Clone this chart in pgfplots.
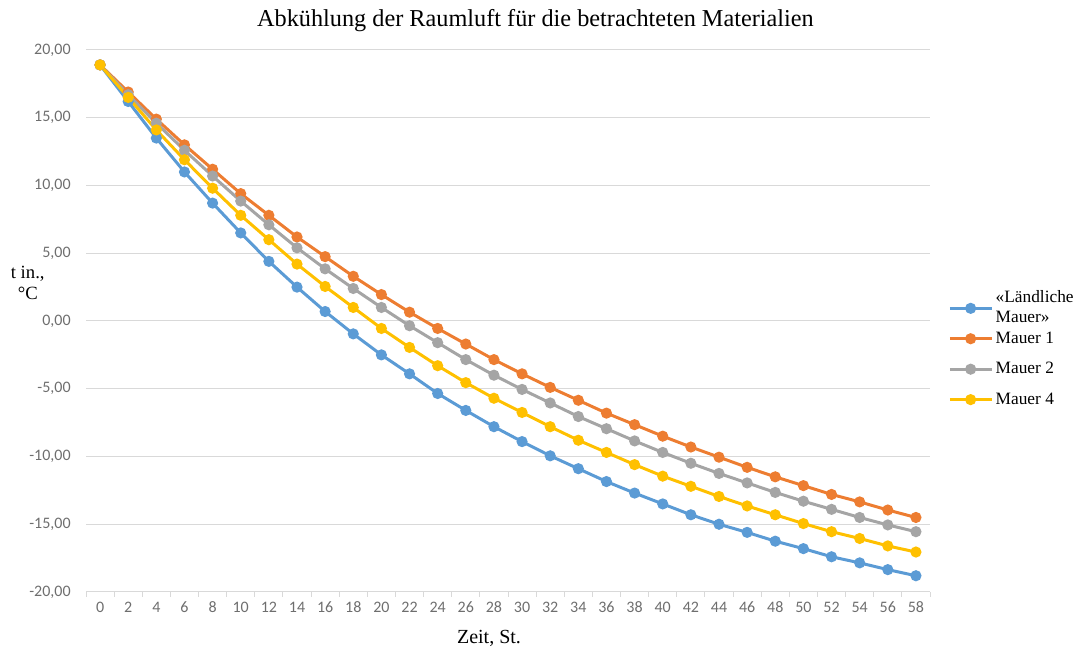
\documentclass[border=0pt]{standalone}
\usepackage{pgfplots}
\pgfplotsset{compat=1.18}
\usepackage{fontspec}
\setmainfont{Liberation Serif}
\newfontfamily\calib{Carlito}

\definecolor{sblue}{HTML}{5B9BD5}
\definecolor{sorange}{HTML}{ED7D31}
\definecolor{sgray}{HTML}{A5A5A5}
\definecolor{sgold}{HTML}{FFC000}
\definecolor{gridgray}{HTML}{D9D9D9}
\definecolor{ticktext}{HTML}{6E6E6E}

\begin{document}
\begin{tikzpicture}
\useasboundingbox (0,0) rectangle (816pt,486.75pt);
\begin{axis}[
  at={(64.5pt,42.75pt)}, anchor=south west,
  scale only axis, width=633pt, height=406.5pt,
  xmin=-1, xmax=59, ymin=-20, ymax=20,
  xtick={0,2,...,58},
  minor xtick={-1,1,...,59},
  ytick={-20,-15,...,20},
  yticklabels={{-20,00},{-15,00},{-10,00},{-5,00},{0,00},{5,00},{10,00},{15,00},{20,00}},
  axis line style={draw=none},
  ymajorgrids, grid style={gridgray, line width=0.75pt},
  major tick length=0pt,
  minor tick length=3.75pt,
  tick align=outside,
  xtick pos=bottom, ytick pos=left,
  minor tick style={gridgray, line width=0.75pt},
  /pgf/number format/assume math mode=true,
  tick label style={font=\calib\fontsize{12}{14}\selectfont, text=ticktext},
  xticklabel style={yshift=-4pt},
  yticklabel style={xshift=-8pt},
  title={Abkühlung der Raumluft für die betrachteten Materialien},
  title style={font=\fontsize{18.2}{20}\selectfont, inner sep=0pt, at={(axis description cs:0.2025,1.028)}, anchor=base west},
  xlabel={Zeit, St.},
  xlabel style={font=\fontsize{15}{17}\selectfont, at={(axis description cs:0.4775,-0.085)}, anchor=center},
  ylabel={t in.,\\°C},
  ylabel style={font=\fontsize{14}{16}\selectfont, align=center, rotate=-90, at={(axis description cs:-0.069,0.570)}, anchor=center},
  every axis plot/.append style={line width=2.25pt, mark=*, mark size=3pt},
  legend style={at={(axis description cs:1.0166,0.546)}, anchor=north west, draw=none, fill=none,
    font=\fontsize{13}{14}\selectfont, row sep=8.75pt, cells={anchor=west}},
  legend image code/.code={\draw[mark repeat=2,mark phase=2,line width=2.25pt] plot coordinates {(0cm,0cm) (0.55cm,0cm) (1.1cm,0cm)};},
]
\addplot[color=sblue] coordinates {
(0,18.9) (2,16.2) (4,13.5) (6,11.0) (8,8.7) (10,6.5) (12,4.4) (14,2.5) (16,0.7) (18,-0.95)
(20,-2.5) (22,-3.9) (24,-5.35) (26,-6.6) (28,-7.8) (30,-8.9) (32,-9.95) (34,-10.9) (36,-11.85) (38,-12.7)
(40,-13.5) (42,-14.3) (44,-15.0) (46,-15.6) (48,-16.25) (50,-16.8) (52,-17.4) (54,-17.85) (56,-18.35) (58,-18.8)
};
\addlegendentry{\smash{\begin{tabular}[c]{@{}l@{}}«Ländliche\\[1pt]Mauer»\end{tabular}}\vphantom{Mg}}
\addplot[color=sorange] coordinates {
(0,18.9) (2,16.9) (4,14.9) (6,13.0) (8,11.2) (10,9.4) (12,7.8) (14,6.2) (16,4.75) (18,3.3)
(20,1.95) (22,0.65) (24,-0.55) (26,-1.7) (28,-2.85) (30,-3.9) (32,-4.9) (34,-5.85) (36,-6.8) (38,-7.65)
(40,-8.5) (42,-9.3) (44,-10.05) (46,-10.8) (48,-11.5) (50,-12.15) (52,-12.8) (54,-13.35) (56,-13.95) (58,-14.5)
};
\addlegendentry{Mauer 1}
\addplot[color=sgray] coordinates {
(0,18.9) (2,16.7) (4,14.6) (6,12.6) (8,10.7) (10,8.85) (12,7.1) (14,5.4) (16,3.85) (18,2.4)
(20,1.0) (22,-0.35) (24,-1.6) (26,-2.85) (28,-4.0) (30,-5.05) (32,-6.05) (34,-7.05) (36,-7.95) (38,-8.85)
(40,-9.7) (42,-10.5) (44,-11.25) (46,-11.95) (48,-12.65) (50,-13.3) (52,-13.9) (54,-14.5) (56,-15.05) (58,-15.55)
};
\addlegendentry{Mauer 2}
\addplot[color=sgold] coordinates {
(0,18.9) (2,16.5) (4,14.1) (6,11.9) (8,9.8) (10,7.8) (12,6.0) (14,4.2) (16,2.55) (18,1.0)
(20,-0.55) (22,-1.95) (24,-3.3) (26,-4.55) (28,-5.7) (30,-6.75) (32,-7.8) (34,-8.8) (36,-9.7) (38,-10.6)
(40,-11.45) (42,-12.2) (44,-12.95) (46,-13.65) (48,-14.3) (50,-14.95) (52,-15.55) (54,-16.05) (56,-16.6) (58,-17.05)
};
\addlegendentry{Mauer 4}
\end{axis}
\end{tikzpicture}
\end{document}
